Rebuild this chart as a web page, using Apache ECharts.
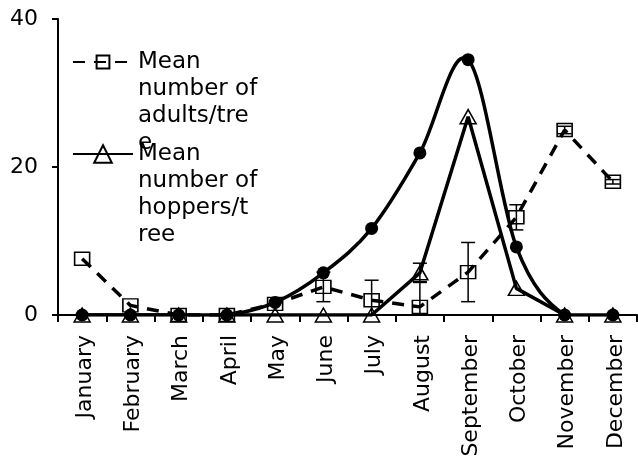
<!DOCTYPE html>
<html><head><meta charset="utf-8">
<script src="https://cdn.jsdelivr.net/npm/echarts@6/dist/echarts.min.js"></script>
<style>html,body{margin:0;padding:0;background:#fff}#c{width:638px;height:461px}</style>
</head><body><div id="c"></div>
<script>
const months = ['January','February','March','April','May','June','July','August','September','October','November','December'];
const adults = [7.6, 1.3, 0, 0, 1.5, 3.8, 2.0, 1.1, 5.8, 13.2, 25.0, 18.0];
const adultsErr = [0, 0, 0, 0, 0, 2.0, 2.7, 3.4, 4.0, 1.7, 0.5, 0.3];
const hoppers = [0, 0, 0, 0, 0, 0, 0, 5.7, 26.8, 3.6, 0, 0];
const hoppersErr = [0, 0, 0, 0, 0, 0, 0, 1.3, 0, 0, 0, 0];
const thirdSeries = [0, 0, 0, 0, 1.7, 5.7, 11.7, 21.9, 34.5, 9.2, 0, 0];
const yTicks = [0, 20, 40];

const FONT = 'DejaVu Sans';
function errData(vals, errs) {
  const out = [];
  vals.forEach((v, i) => { if (errs[i] > 0) out.push([i, v - errs[i], v + errs[i]]); });
  return out;
}
function renderErr(params, api) {
  const x = api.value(0);
  const lo = api.coord([x, api.value(1)]);
  const hi = api.coord([x, api.value(2)]);
  const hw = 7;
  const style = { stroke: '#000', lineWidth: 1.5, fill: null };
  return { type: 'group', children: [
    { type: 'line', shape: { x1: lo[0], y1: lo[1], x2: hi[0], y2: hi[1] }, style },
    { type: 'line', shape: { x1: lo[0] - hw, y1: lo[1], x2: lo[0] + hw, y2: lo[1] }, style },
    { type: 'line', shape: { x1: hi[0] - hw, y1: hi[1], x2: hi[0] + hw, y2: hi[1] }, style }
  ]};
}
// smoothed (Catmull-Rom) curve through the points of a series, positioned by the axes
function makeCurveRenderer(values) {
  return function (params, api) {
    if (params.dataIndex !== 0) return null;
    const p = values.map((v, i) => api.coord([i, v]));
    let d = 'M' + p[0][0] + ' ' + p[0][1];
    for (let i = 0; i < p.length - 1; i++) {
      const p0 = p[Math.max(0, i - 1)], p1 = p[i], p2 = p[i + 1], p3 = p[Math.min(p.length - 1, i + 2)];
      const c1x = p1[0] + (p2[0] - p0[0]) / 6, c1y = p1[1] + (p2[1] - p0[1]) / 6;
      const c2x = p2[0] - (p3[0] - p1[0]) / 6, c2y = p2[1] - (p3[1] - p1[1]) / 6;
      d += ' C' + c1x + ' ' + c1y + ' ' + c2x + ' ' + c2y + ' ' + p2[0] + ' ' + p2[1];
    }
    return { type: 'path', shape: { pathData: d }, style: { stroke: '#000', lineWidth: 3.5, fill: 'none', lineJoin: 'round' } };
  };
}
const chart = echarts.init(document.getElementById('c'), null, { renderer: 'canvas' });
const legendText = { fontSize: 23, lineHeight: 27, color: '#000', fontFamily: FONT };
chart.setOption({
  animation: false,
  backgroundColor: '#fff',
  textStyle: { fontFamily: FONT },
  grid: { left: 58, right: 1, top: 19, bottom: 146, containLabel: false, outerBoundsMode: 'none' },
  legend: [
    { data: ['Mean number of adults/tree'], left: 67, top: 62 - 94.5 - 5, itemWidth: 60, itemHeight: 16, selectedMode: false,
      formatter: () => '\n\n\nMean\nnumber of\nadults/tre\ne', textStyle: legendText },
    { data: ['Mean number of hoppers/tree'], left: 67, top: 154 - 94.5 - 5, itemWidth: 60, itemHeight: 22, selectedMode: false,
      formatter: () => '\n\n\nMean\nnumber of\nhoppers/t\nree', textStyle: legendText }
  ],
  xAxis: {
    type: 'category', data: months, boundaryGap: true,
    axisLine: { show: true, lineStyle: { color: '#000', width: 2 } },
    axisTick: { show: true, length: 7, interval: 0, alignWithLabel: false, lineStyle: { color: '#000', width: 2 } },
    axisLabel: { rotate: 90, interval: 0, margin: 20, color: '#000', fontFamily: FONT, fontSize: 22,
      formatter: v => '{m|' + v + '}',
      rich: { m: { fontSize: 22, fontFamily: FONT, color: '#000', padding: [6, 0, 0, 0] } } },
    splitLine: { show: false }
  },
  yAxis: {
    type: 'value', min: yTicks[0], max: yTicks[yTicks.length - 1], interval: yTicks[1] - yTicks[0],
    axisLine: { show: true, lineStyle: { color: '#000', width: 2 } },
    axisTick: { show: true, length: 6, lineStyle: { color: '#000', width: 2 } },
    axisLabel: { margin: 20, fontSize: 22, color: '#000', fontFamily: FONT },
    splitLine: { show: false }
  },
  series: [
    { name: 'curve3', type: 'custom', data: thirdSeries.map((v, i) => [i, v]), renderItem: makeCurveRenderer(thirdSeries),
      clip: true, encode: { x: 0, y: 1 }, z: 2 },
    { name: 'Mean number of hoppers/tree', type: 'line', data: hoppers, symbol: 'triangle', symbolSize: [16, 14],
      itemStyle: { color: 'transparent', borderColor: '#000', borderWidth: 1.5 }, lineStyle: { color: '#000', width: 3.5 }, z: 3 },
    { name: 'Mean number of adults/tree', type: 'line', data: adults, symbol: 'rect', symbolSize: [15, 13],
      itemStyle: { color: 'transparent', borderColor: '#000', borderWidth: 1.5 }, lineStyle: { color: '#000', width: 3.5, type: [12, 9] }, z: 4 },
    { name: 'adultsErr', type: 'custom', data: errData(adults, adultsErr), renderItem: renderErr, clip: true,
      encode: { x: 0, y: [1, 2] }, z: 5 },
    { name: 'hoppersErr', type: 'custom', data: errData(hoppers, hoppersErr), renderItem: renderErr, clip: true,
      encode: { x: 0, y: [1, 2] }, z: 5 },
    { name: 'series3', type: 'line', data: thirdSeries, symbol: 'circle', symbolSize: 13,
      itemStyle: { color: '#000' }, lineStyle: { opacity: 0, width: 0 }, z: 6 }
  ]
});
</script></body></html>
